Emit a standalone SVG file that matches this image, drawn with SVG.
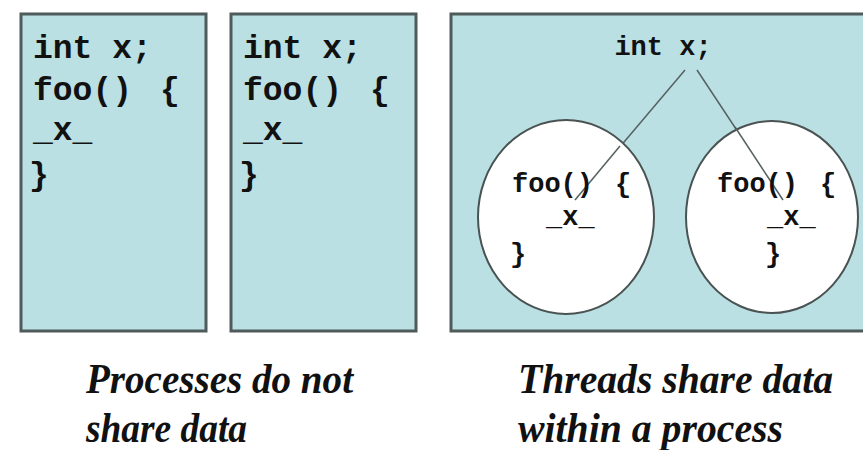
<svg xmlns="http://www.w3.org/2000/svg" width="863" height="450" viewBox="0 0 863 450">
<style>
.box{fill:#bae0e3;stroke:#4f5b5b;stroke-width:3}
.code{font-family:"Liberation Mono","Courier New",monospace;font-weight:bold;fill:#111}
.big{font-size:33px}
.small{font-size:27px}
.thread{fill:#fff;stroke:#4a5252;stroke-width:2}
.cap{font-family:"Liberation Serif","Times New Roman",serif;font-style:italic;font-weight:bold;font-size:42px;fill:#111}
.link{stroke:#556060;stroke-width:1.5;fill:none}
</style>
<rect width="863" height="450" fill="#fff"/>
<g id="process1">
<rect class="box" x="21" y="14" width="185" height="317"/>
<text class="code big" x="33" y="58">int x;</text>
<text class="code big" x="33" y="100">foo()<tspan x="160">{</tspan></text>
<text class="code big" x="33" y="140">_x_</text>
<text class="code big" x="29" y="185">}</text>
</g>
<g id="process2">
<rect class="box" x="231" y="14" width="185" height="317"/>
<text class="code big" x="243" y="58">int x;</text>
<text class="code big" x="243" y="100">foo()<tspan x="370">{</tspan></text>
<text class="code big" x="243" y="140">_x_</text>
<text class="code big" x="239" y="185">}</text>
</g>
<g id="process3">
<rect class="box" x="451" y="14" width="420" height="317"/>
<text class="code small" x="663" y="55" text-anchor="middle">int x;</text>
</g>
<g id="connectors">
<line class="link" x1="685" y1="70" x2="575" y2="200"/>
<line class="link" x1="697" y1="70" x2="783" y2="200"/>
</g>
<g id="thread1">
<ellipse class="thread" cx="566" cy="217" rx="88" ry="97"/>
<line class="link" x1="620" y1="146" x2="575" y2="200"/>
<text class="code small" x="512" y="192">foo()<tspan x="615">{</tspan></text>
<text class="code small" x="546" y="225">_x_</text>
<text class="code small" x="510" y="262">}</text>
</g>
<g id="thread2">
<ellipse class="thread" cx="772" cy="217" rx="86" ry="96"/>
<line class="link" x1="735" y1="127" x2="783" y2="200"/>
<text class="code small" x="717" y="192">foo()<tspan x="820">{</tspan></text>
<text class="code small" x="767" y="225">_x_</text>
<text class="code small" x="765" y="262">}</text>
</g>
<g id="captions">
<text class="cap" x="86" y="393" textLength="267" lengthAdjust="spacingAndGlyphs">Processes do not</text>
<text class="cap" x="86" y="442" textLength="161" lengthAdjust="spacingAndGlyphs">share data</text>
<text class="cap" x="518" y="393" textLength="315" lengthAdjust="spacingAndGlyphs">Threads share data</text>
<text class="cap" x="518" y="442" textLength="265" lengthAdjust="spacingAndGlyphs">within a process</text>
</g>
</svg>
